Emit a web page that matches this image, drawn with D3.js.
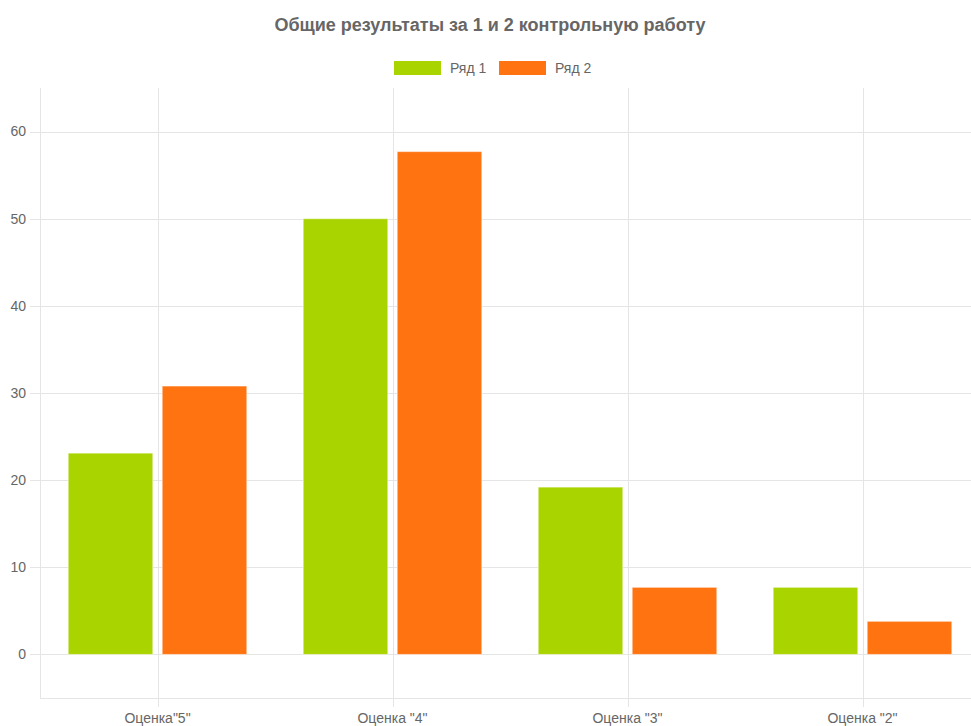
<!DOCTYPE html>
<html>
<head>
<meta charset="utf-8">
<script src="https://cdn.jsdelivr.net/npm/d3@7"></script>
<style>
	body { margin: 0; background: #fff; overflow: hidden; }
	svg { display: block; font-family: "Liberation Sans", Arial, Helvetica, sans-serif; }
</style>
</head>
<body>
<div id="chart"></div>
<script>

var categories = ['Оценка"5"', 'Оценка "4"', 'Оценка "3"', 'Оценка "2"'];
var seriesNames = ['Ряд 1', 'Ряд 2'];
var series1 = [23.1, 50, 19.2, 7.7];
var series2 = [30.8, 57.7, 7.7, 3.8];
var yTicks = [0, 10, 20, 30, 40, 50, 60];
var colors = ['#aad400', '#ff7411'];

var width = 971, height = 726;
var [ mT, mR, mB, mL ] = [ 88, -9, 28, 40 ];		// canvas is a bit wider than the window

var svg = d3.select("#chart").append("svg")
	.attr("width", width)
	.attr("height", height);

var x = d3.scaleBand(categories, [ mL, width - mR ]);
var y = d3.scaleLinear([ -5, 65 ], [ height - mB, mT ]);

// bars take 80% of the category, each bar 90% of its slot
var catW = x.bandwidth() * 0.8, slot = catW / 2, barW = slot * 0.9;
function barX(cat, i)	{
	return x(cat) + x.bandwidth() * 0.1 + slot * i + (slot - barW) / 2;
}

var grid = "#e5e5e5";

// horizontal grid
svg.append("g")
	.selectAll("line")
	.data(yTicks)
	.join("line")
	.attr("x1", mL - 10)
	.attr("x2", width)
	.attr("y1", d => Math.round(y(d)) + 0.5)
	.attr("y2", d => Math.round(y(d)) + 0.5)
	.attr("stroke", grid);

// bottom axis line
svg.append("line")
	.attr("x1", mL).attr("x2", width)
	.attr("y1", Math.round(y(-5)) + 0.5).attr("y2", Math.round(y(-5)) + 0.5)
	.attr("stroke", grid);

// vertical grid: left edge + category centres
svg.append("line")
	.attr("x1", mL + 0.5).attr("x2", mL + 0.5)
	.attr("y1", mT).attr("y2", y(-5))
	.attr("stroke", grid);

svg.append("g")
	.selectAll("line")
	.data(categories)
	.join("line")
	.attr("x1", d => Math.round(x(d) + x.bandwidth() / 2) + 0.5)
	.attr("x2", d => Math.round(x(d) + x.bandwidth() / 2) + 0.5)
	.attr("y1", mT)
	.attr("y2", y(-5) + 9)
	.attr("stroke", grid);

// y tick labels
svg.append("g")
	.selectAll("text")
	.data(yTicks)
	.join("text")
	.attr("x", mL - 14)
	.attr("y", d => y(d))
	.attr("dy", "0.35em")
	.attr("text-anchor", "end")
	.attr("font-size", 14)
	.attr("fill", "#666")
	.text(d => d);

// x tick labels
svg.append("g")
	.selectAll("text")
	.data(categories)
	.join("text")
	.attr("x", d => x(d) + x.bandwidth() / 2)
	.attr("y", y(-5) + 25)
	.attr("text-anchor", "middle")
	.attr("font-size", 14)
	.attr("fill", "#666")
	.text(d => d);

// bars
[ series1, series2 ].forEach((vals, i) => {
	svg.append("g")
		.selectAll("rect")
		.data(vals)
		.join("rect")
		.attr("x", (d, j) => barX(categories[j], i))
		.attr("y", d => y(d))
		.attr("width", barW)
		.attr("height", d => y(0) - y(d))
		.attr("fill", colors[i])
		.attr("stroke", "rgba(255,255,255,0.5)")
		.attr("stroke-width", 1);
});

// title
svg.append("text")
	.attr("x", 490)
	.attr("y", 31)
	.attr("text-anchor", "middle")
	.attr("font-size", 18)
	.attr("font-weight", "bold")
	.attr("fill", "#666")
	.text("Общие результаты за 1 и 2 контрольную работу");

// legend
var legendX = [ 394, 499 ];
var lg = svg.append("g")
	.selectAll("g")
	.data(seriesNames)
	.join("g")
	.attr("transform", (d, i) => `translate(${legendX[i]}, 61)`);

lg.append("rect")
	.attr("width", 47)
	.attr("height", 14)
	.attr("fill", (d, i) => colors[i]);

lg.append("text")
	.attr("x", 56)
	.attr("y", 7)
	.attr("dy", "0.35em")
	.attr("font-size", 14)
	.attr("fill", "#666")
	.text(d => d);

</script>
</body>
</html>
